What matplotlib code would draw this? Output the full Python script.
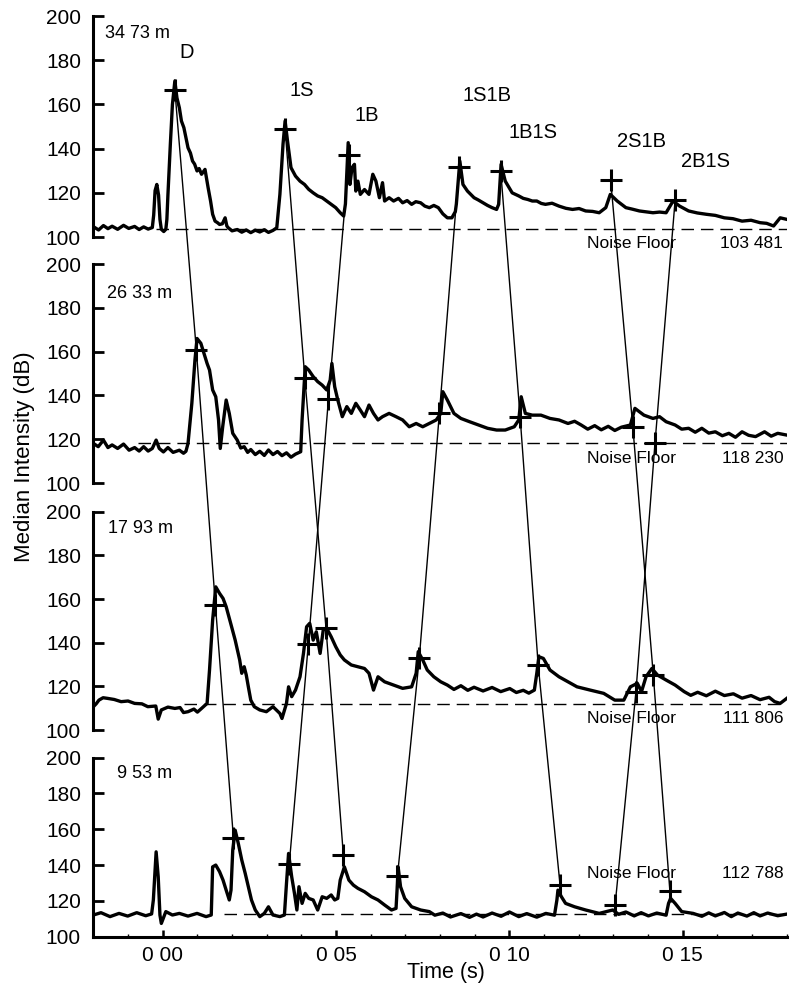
import matplotlib
matplotlib.use("Agg")
import matplotlib.pyplot as plt
from matplotlib.patches import ConnectionPatch
from matplotlib.ticker import MultipleLocator

plt.rcParams['font.family'] = ['Liberation Sans', 'DejaVu Sans']

# ---------------- data (time in ms, level in dB) ----------------
ranges = ["34 73 m", "26 33 m", "17 93 m", "9 53 m"]
noise_floor = [103.481, 118.230, 111.806, 112.788]
noise_text = ["103 481", "118 230", "111 806", "112 788"]

t1 = [-20.0, -18.5, -17.1, -15.8, -14.6, -13.0, -11.3, -9.8, -8.1, -6.8, -5.5, -4.2, -3.0, -2.6, -2.2, -1.7,
      -1.2, -0.8, -0.4, 0.3, 0.9, 1.2, 1.5, 2.2, 2.8, 3.5, 4.1, 4.8, 5.4, 6.1, 6.7, 7.3, 8.0, 8.6, 9.2, 9.9,
      10.5, 11.2, 12.2, 13.1, 13.8, 14.4, 15.1, 15.8, 16.4, 17.2, 18.0, 18.5, 18.9, 20.0, 21.5, 22.8, 24.1,
      25.4, 26.7, 28.0, 29.3, 30.5, 31.8, 32.9, 33.8, 34.7, 35.3, 36.0, 37.0, 38.3, 39.6, 40.9, 42.1, 43.4,
      44.7, 46.0, 47.3, 48.6, 49.9, 51.2, 52.2, 52.7, 53.5, 54.0, 54.6, 55.3, 55.7, 56.3, 57.0, 58.2, 59.5,
      60.6, 61.5, 62.5, 63.4, 64.0, 65.3, 66.6, 68.0, 69.2, 70.5, 71.8, 73.0, 74.4, 75.6, 76.9, 78.2, 79.5,
      80.8, 82.1, 83.4, 84.4, 84.7, 85.7, 86.6, 87.9, 89.8, 91.0, 92.4, 93.7, 95.0, 96.3, 96.9, 97.6, 98.8,
      100.8, 102.7, 104.0, 105.3, 106.6, 107.9, 109.2, 110.4, 112.3, 114.3, 116.3, 118.2, 120.1, 122.0,
      124.0, 125.9, 127.8, 129.1, 131.1, 133.6, 135.5, 137.5, 139.5, 141.4, 143.3, 145.2, 147.2, 149.1,
      151.7, 154.2, 156.8, 159.4, 162.0, 164.5, 167.1, 169.7, 172.3, 174.2, 176.2, 178.1, 180.0]
v1 = [104.7, 103.2, 105.2, 103.8, 104.9, 103.5, 105.3, 103.9, 104.8, 103.4, 104.6, 103.6, 104.3, 110.0, 121.0,
      123.8, 119.0, 108.0, 103.5, 102.5, 103.5, 108.0, 119.0, 142.0, 160.0, 170.6, 163.0, 158.5, 152.5, 149.5,
      145.0, 140.4, 138.0, 134.4, 133.0, 129.9, 131.0, 128.4, 130.6, 122.3, 116.3, 110.3, 107.2, 106.5, 105.7,
      106.0, 108.7, 105.0, 104.2, 102.8, 103.4, 102.2, 103.2, 102.0, 103.1, 102.3, 103.3, 102.1, 103.0, 104.2,
      119.3, 142.0, 152.5, 143.4, 131.4, 127.6, 125.3, 123.8, 121.6, 120.0, 118.6, 117.8, 116.3, 114.8, 113.3,
      111.0, 109.5, 115.0, 142.7, 123.8, 131.4, 132.9, 120.8, 125.3, 119.3, 121.5, 119.3, 128.4, 125.3, 117.8,
      124.6, 116.3, 117.8, 116.3, 117.5, 115.5, 116.5, 114.8, 116.0, 115.5, 114.0, 113.3, 114.3, 113.3, 110.5,
      108.7, 108.7, 111.5, 115.0, 134.4, 123.8, 120.8, 117.8, 116.8, 115.5, 114.3, 113.3, 112.5, 114.8, 132.9,
      125.3, 120.0, 118.6, 117.5, 117.0, 116.3, 116.3, 115.2, 114.8, 115.3, 114.0, 113.0, 112.5, 112.9, 111.8,
      111.6, 111.0, 113.3, 119.3, 116.3, 113.3, 112.6, 111.8, 111.4, 111.0, 111.3, 111.0, 116.3, 114.0, 111.8,
      110.9, 110.3, 109.8, 108.7, 108.3, 107.2, 107.6, 106.5, 106.2, 105.0, 108.7, 108.0]

t2 = [-20.0, -18.6, -17.1, -15.8, -14.6, -13.0, -11.3, -9.7, -8.1, -6.8, -5.5, -4.2, -3.0, -1.9, -1.0, 0.2,
      1.5, 3.0, 4.8, 6.0, 6.7, 7.3, 8.4, 9.3, 9.9, 11.0, 11.9, 12.8, 13.5, 14.4, 15.3, 16.1, 16.6, 17.3, 18.3,
      19.2, 20.2, 21.5, 22.5, 23.5, 24.5, 25.4, 26.7, 28.0, 29.3, 30.5, 31.8, 33.1, 34.4, 35.7, 37.0, 38.3,
      39.8, 40.2, 41.1, 42.1, 43.4, 44.7, 46.0, 47.3, 48.3, 48.8, 49.6, 50.5, 51.8, 53.1, 54.4, 55.7, 57.0,
      58.2, 59.5, 60.8, 62.1, 63.4, 65.3, 67.3, 69.2, 71.1, 73.1, 75.0, 76.9, 78.9, 80.2, 80.8, 82.1, 84.0,
      86.0, 88.5, 91.1, 93.7, 96.3, 98.8, 101.4, 102.7, 103.4, 104.6, 106.6, 109.1, 111.7, 114.3, 116.9,
      118.8, 120.7, 122.6, 124.6, 126.5, 128.5, 130.4, 132.3, 134.9, 136.2, 138.8, 141.4, 143.3, 145.2, 147.8,
      149.7, 151.7, 153.6, 155.5, 157.5, 159.4, 161.4, 163.3, 165.2, 167.1, 169.0, 171.0, 173.6, 175.5, 177.4,
      180.0]
v2 = [118.1, 116.6, 119.6, 116.2, 117.4, 115.8, 117.8, 115.0, 116.2, 114.6, 116.6, 114.6, 115.8, 119.6, 115.8,
      114.2, 116.2, 114.0, 115.0, 113.6, 114.5, 118.1, 136.4, 156.2, 166.0, 163.8, 159.2, 154.6, 151.6, 142.5,
      139.4, 128.8, 115.8, 125.7, 137.9, 131.8, 122.7, 119.6, 116.0, 116.6, 114.0, 115.3, 113.0, 114.5, 112.6,
      115.1, 113.0, 114.4, 112.5, 113.8, 111.8, 113.2, 114.3, 128.8, 153.1, 151.6, 148.6, 146.3, 144.7, 142.5,
      147.0, 154.6, 144.0, 137.9, 130.3, 134.9, 131.8, 136.4, 133.3, 130.3, 135.6, 131.8, 128.8, 130.3, 131.8,
      130.3, 128.8, 125.7, 127.2, 125.7, 127.2, 128.8, 131.8, 141.7, 137.9, 131.8, 129.5, 128.0, 126.5, 125.0,
      124.2, 124.2, 125.7, 128.8, 139.4, 131.8, 131.0, 131.0, 129.5, 128.8, 127.2, 128.2, 126.5, 124.6, 126.2,
      124.3, 125.9, 124.0, 125.5, 126.5, 134.1, 131.0, 129.5, 130.3, 128.0, 126.5, 124.6, 125.0, 123.2, 125.0,
      122.8, 123.4, 121.6, 122.7, 120.9, 123.4, 121.8, 121.2, 123.4, 121.4, 122.7, 121.9]

t3 = [-20.0, -19.2, -18.4, -17.2, -15.9, -14.0, -12.0, -10.0, -8.1, -6.0, -4.3, -2.0, -1.3, -0.4, 1.5, 3.5,
      5.0, 6.0, 7.3, 9.0, 10.0, 11.2, 12.8, 13.5, 14.4, 15.3, 16.4, 17.4, 18.3, 19.6, 20.9, 22.2, 22.8, 23.5,
      24.1, 24.7, 25.4, 26.4, 28.0, 29.9, 31.8, 33.8, 34.4, 35.7, 36.3, 37.2, 38.3, 39.6, 40.6, 41.5, 42.4,
      43.4, 44.3, 45.4, 46.3, 47.3, 48.6, 49.9, 51.2, 52.4, 54.4, 56.3, 58.2, 59.5, 60.8, 62.1, 64.0, 66.6,
      69.2, 71.8, 73.1, 73.7, 75.0, 76.3, 78.2, 80.2, 82.1, 84.0, 86.0, 88.0, 89.8, 92.4, 95.0, 97.5, 100.1,
      102.0, 104.0, 105.6, 107.2, 107.9, 108.5, 109.8, 111.7, 114.3, 116.9, 119.5, 123.3, 127.2, 130.4, 133.0,
      134.9, 136.9, 138.1, 139.4, 141.1, 142.7, 145.2, 147.8, 150.4, 152.3, 154.3, 156.8, 159.4, 162.0, 164.6,
      167.1, 169.7, 172.3, 174.9, 176.5, 178.1, 180.0]
v3 = [110.7, 112.0, 113.7, 114.8, 114.5, 114.0, 113.0, 113.3, 112.2, 112.0, 110.7, 111.0, 105.0, 109.2, 110.5,
      109.9, 110.3, 108.0, 108.4, 109.6, 108.2, 109.9, 112.2, 127.5, 150.4, 165.6, 162.6, 160.3, 156.5, 148.9,
      141.2, 132.1, 126.0, 129.0, 125.2, 119.8, 113.7, 110.7, 109.2, 108.4, 110.7, 107.6, 105.3, 112.2, 119.8,
      115.3, 118.3, 124.4, 135.1, 147.3, 148.9, 141.2, 145.0, 135.1, 145.8, 146.6, 142.7, 138.2, 134.4, 132.1,
      129.8, 129.0, 128.2, 126.0, 118.3, 124.4, 122.1, 120.6, 119.1, 119.8, 126.0, 135.9, 132.1, 127.5, 124.4,
      122.1, 120.6, 118.6, 120.3, 118.2, 119.6, 117.9, 119.5, 117.6, 119.0, 117.2, 118.2, 116.9, 118.3, 126.0,
      133.6, 132.8, 127.5, 124.4, 122.1, 119.8, 118.3, 116.8, 113.7, 113.7, 119.8, 121.4, 117.6, 124.4, 128.2,
      125.2, 122.9, 120.6, 117.6, 115.9, 117.3, 115.7, 117.8, 115.8, 116.6, 114.6, 115.8, 113.9, 115.0, 113.0,
      112.2, 114.5]

t4 = [-20.0, -17.8, -15.2, -12.6, -10.1, -7.5, -4.9, -3.2, -2.7, -1.9, -1.3, -0.8, -0.4, 0.9, 2.8, 4.8, 7.3,
      9.9, 12.5, 14.0, 14.4, 15.3, 16.4, 17.4, 18.3, 19.2, 19.7, 20.2, 20.9, 21.8, 22.8, 23.8, 24.7, 25.6,
      26.7, 28.0, 29.3, 30.5, 31.8, 33.8, 35.1, 35.7, 36.3, 37.2, 38.0, 38.7, 39.3, 40.2, 41.1, 42.1, 43.4,
      44.7, 46.0, 47.3, 48.6, 49.6, 50.5, 51.2, 52.4, 53.7, 55.0, 56.3, 58.2, 60.2, 62.1, 64.0, 66.0, 67.3,
      67.7, 67.9, 68.6, 69.8, 71.8, 74.4, 76.9, 78.5, 80.8, 83.0, 86.0, 88.5, 90.5, 92.4, 95.0, 97.6, 100.0,
      102.7, 105.0, 107.9, 110.5, 113.0, 113.7, 114.0, 115.0, 116.2, 118.8, 122.0, 125.9, 129.8, 131.5, 133.6,
      136.0, 138.0, 140.1, 142.5, 145.2, 145.9, 146.5, 147.8, 149.7, 153.0, 155.5, 157.5, 159.4, 162.0, 164.0,
      165.9, 168.5, 170.5, 172.3, 174.5, 177.4, 180.0]
v4 = [112.1, 113.4, 111.2, 113.0, 111.5, 113.4, 111.7, 112.7, 120.5, 147.4, 133.5, 112.1, 107.4, 114.0, 112.1,
      113.0, 111.5, 113.0, 111.2, 112.1, 139.0, 140.0, 136.3, 131.6, 126.0, 120.5, 126.0, 148.4, 159.5, 152.1,
      142.8, 135.3, 127.9, 120.5, 114.9, 111.2, 113.0, 116.7, 112.1, 111.2, 112.1, 129.8, 146.5, 133.5, 124.2,
      114.9, 127.9, 118.6, 124.2, 121.4, 120.5, 114.9, 122.3, 121.4, 123.3, 120.5, 121.4, 131.6, 139.0, 131.6,
      128.8, 127.0, 125.1, 122.3, 120.5, 117.7, 114.9, 115.8, 129.8, 139.0, 127.9, 121.4, 116.7, 114.9, 114.0,
      112.0, 113.2, 111.0, 112.9, 110.8, 112.6, 111.0, 113.2, 111.4, 113.8, 111.2, 112.9, 110.9, 113.0, 112.0,
      120.5, 126.0, 122.3, 118.6, 116.7, 114.9, 113.0, 114.9, 112.5, 113.8, 111.6, 113.4, 111.6, 113.2, 112.0,
      118.6, 121.4, 118.6, 114.0, 113.0, 111.4, 113.3, 111.6, 113.5, 111.2, 113.2, 111.5, 113.4, 111.6, 113.2,
      111.7, 112.6]

# arrival picks (+ markers) per panel, in seconds / dB
arrivals = ["D", "1S", "1B", "1S1B", "1B1S", "2S1B", "2B1S"]
pick_t = [
    [0.0035, 0.0353, 0.0538, 0.0855, 0.0975, 0.1292, 0.1478],
    [0.0097, 0.0410, 0.0478, 0.0798, 0.1031, 0.1356, 0.1420],
    [0.0152, 0.0471, 0.0420, 0.0740, 0.1083, 0.1415, 0.1365],
    [0.0204, 0.0521, 0.0365, 0.0677, 0.1146, 0.1463, 0.1305],
]
pick_v = [
    [166.5, 148.7, 137.1, 131.5, 129.9, 125.8, 116.7],
    [160.7, 147.8, 138.2, 131.8, 130.0, 125.7, 118.4],
    [157.3, 146.6, 139.3, 132.9, 129.8, 125.2, 117.6],
    [155.1, 145.8, 140.6, 133.7, 129.0, 125.3, 117.9],
]
# label positions of the arrival names (top panel)
label_t = [0.0070, 0.0401, 0.0588, 0.0936, 0.1067, 0.1382, 0.1565]
label_v = [183.7, 166.5, 154.8, 164.0, 147.4, 143.3, 134.0]

x_ticks = [0.00, 0.05, 0.10, 0.15]
x_ticklabels = ["0 00", "0 05", "0 10", "0 15"]

# ---------------- layout ----------------
fig = plt.figure(figsize=(7.9, 9.84), dpi=100)
rects = [
    (0.1182, 0.7591, 0.8777, 0.2246),
    (0.1182, 0.5091, 0.8777, 0.2226),
    (0.1182, 0.2581, 0.8777, 0.2218),
    (0.1182, 0.0481, 0.8777, 0.1819),
]
traces = [(t1, v1), (t2, v2), (t3, v3), (t4, v4)]
dash_start = [-0.002, -0.007, 0.006, 0.0177]
range_pos = [(-0.0166, 192.0), (-0.0162, 186.6), (-0.0158, 192.5), (-0.0133, 191.3)]
nf_text_v = [97.3, 111.3, 105.4, 135.4]

axes = []
for i, r in enumerate(rects):
    ax = fig.add_axes(r)
    axes.append(ax)
    ax.set_xlim(-0.02, 0.18)
    ax.set_ylim(100, 200)
    for s in ['top', 'right']:
        ax.spines[s].set_visible(False)
    ax.spines['left'].set_linewidth(2.2)
    ax.set_yticks([100, 120, 140, 160, 180, 200])
    ax.tick_params(axis='y', direction='in', length=8, width=2.0, labelsize=15, pad=9)
    if i < 3:
        ax.spines['bottom'].set_visible(False)
        ax.set_xticks([])
    else:
        ax.spines['bottom'].set_linewidth(2.2)
        ax.set_xticks(x_ticks)
        ax.set_xticklabels(x_ticklabels)
        ax.xaxis.set_minor_locator(MultipleLocator(0.01))
        ax.tick_params(axis='x', which='major', direction='in', length=5, width=1.8,
                       labelsize=15, pad=7)
        ax.tick_params(axis='x', which='minor', direction='in', length=2.5, width=1.0)
        ax.set_xlabel("Time (s)", fontsize=15.5)
        ax.xaxis.set_label_coords(0.508, -0.14)
        ax.xaxis.label.set_va('top')

    tt, vv = traces[i]
    ax.plot([t / 1000.0 for t in tt], vv, color='black', lw=2.4, solid_joinstyle='round', zorder=3)
    ax.plot([dash_start[i], 0.18], [noise_floor[i]] * 2, color='black', lw=1.0,
            ls=(0, (9, 5)), zorder=2)
    ax.plot(pick_t[i], pick_v[i], ls='none', marker='+', ms=16, mew=2.2, color='black', zorder=4)

    ax.text(range_pos[i][0], range_pos[i][1], ranges[i], fontsize=13, ha='left', va='center')
    ax.text(0.1223, nf_text_v[i], "Noise Floor", fontsize=12.5, ha='left', va='center', clip_on=False)
    ax.text(0.179, nf_text_v[i], noise_text[i], fontsize=12.5, ha='right', va='center', clip_on=False)

for name, lt, lv in zip(arrivals, label_t, label_v):
    axes[0].text(lt, lv, name, fontsize=14.5, ha='center', va='center')

# connecting lines between picks of the same arrival
for j in range(len(arrivals)):
    for k in range(3):
        con = ConnectionPatch(xyA=(pick_t[k][j], pick_v[k][j]), coordsA=axes[k].transData,
                              xyB=(pick_t[k + 1][j], pick_v[k + 1][j]), coordsB=axes[k + 1].transData,
                              color='black', lw=1.0, zorder=5)
        fig.add_artist(con)

fig.text(25 / 790, 1 - 457 / 984, "Median Intensity (dB)", rotation=90, fontsize=16,
         ha='center', va='center')

fig.savefig("out.png", dpi=100)
